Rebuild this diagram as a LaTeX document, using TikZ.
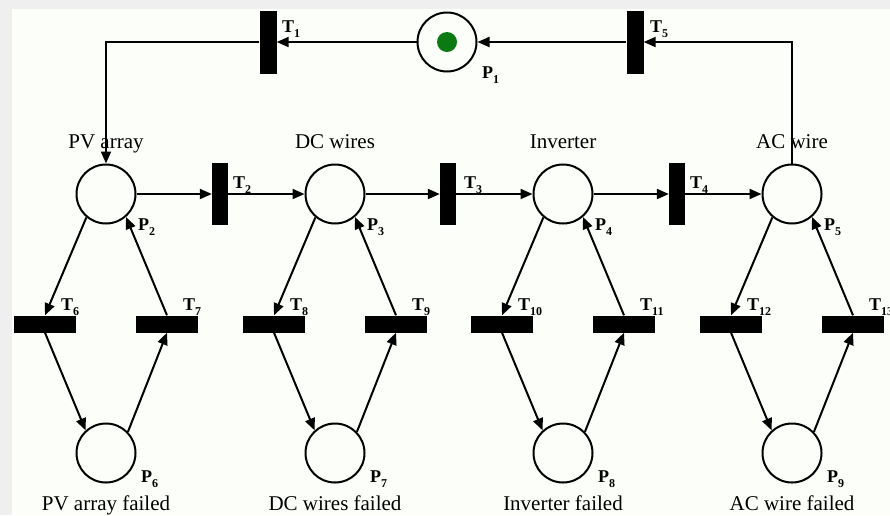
\documentclass[tikz,border=0pt]{standalone}
\usepackage{fontspec}
\setmainfont{Liberation Serif}
\usetikzlibrary{arrows.meta}
\definecolor{bggray}{HTML}{EFEFEF}
\definecolor{panel}{HTML}{FBFEF9}
\definecolor{token}{HTML}{0B7A12}
\newcommand{\tlab}[2]{\textbf{#1\raisebox{-0.3em}{\fontsize{12}{12}\selectfont #2}}}
\begin{document}
\begin{tikzpicture}[x=1pt,y=-1pt,
  place/.style={circle,draw,line width=2pt,minimum size=59pt,inner sep=0pt},
  vbar/.style={rectangle,fill=black,minimum width=17pt,minimum height=63pt,inner sep=0pt},
  hbar/.style={rectangle,fill=black,minimum width=62pt,minimum height=17pt,inner sep=0pt},
  arcline/.style={line width=2pt,-{Triangle[length=12pt,width=10pt]}},
  lab/.style={font=\fontsize{18}{20}\selectfont,inner sep=0pt,anchor=base west},
  nametext/.style={font=\fontsize{21}{24}\selectfont,inner sep=0pt,anchor=base}
]
\useasboundingbox (0,0) rectangle (890,515);
\fill[bggray] (0,0) rectangle (890,515);
\fill[panel] (12,9) rectangle (890,515);

% top part
\node[place] (P1) at (447,42) {};
\fill[token] (P1.center) circle (10pt);
\node[vbar] (T1) at (268,42) {};
\node[vbar] (T5) at (635,42) {};
\node[lab] (lT1) at (282,32) {\tlab{T}{1}};
\node[lab] (lT5) at (650,32) {\tlab{T}{5}};
\node[lab] (lP1) at (482,78) {\tlab{P}{1}};

% columns
\foreach \k/\cx/\nm in {1/106/PV array,2/335/DC wires,3/563/Inverter,4/792/AC wire}{
  \pgfmathtruncatemacro\ptop{\k+1}
  \pgfmathtruncatemacro\pbot{\k+5}
  \pgfmathtruncatemacro\tleft{2*\k+4}
  \pgfmathtruncatemacro\tright{2*\k+5}
  \node[place] (P\ptop) at (\cx,194) {};
  \node[place] (P\pbot) at (\cx,453) {};
  \node[hbar] (T\tleft) at (\cx-61,324) {};
  \node[hbar] (T\tright) at (\cx+61,324) {};
  \node[nametext] (n\ptop) at (\cx,148) {\nm};
  \node[nametext] (n\pbot) at (\cx,510) {\nm\ failed};
  \node[lab] (lP\ptop) at (\cx+32,230) {\tlab{P}{\ptop}};
  \node[lab] (lP\pbot) at (\cx+35,482) {\tlab{P}{\pbot}};
  \node[lab] (lT\tleft) at (\cx-45,310) {\tlab{T}{\tleft}};
  \node[lab] (lT\tright) at (\cx+77,310) {\tlab{T}{\tright}};
  \draw[arcline] (P\ptop.230) -- (T\tleft.north);
  \draw[arcline] (T\tright.north) -- (P\ptop.311);
  \draw[arcline] (T\tleft.south) -- (P\pbot.132);
  \draw[arcline] (P\pbot.44) -- (T\tright.south);
}

\node[vbar,minimum width=16pt,minimum height=62pt] (T2) at (220,194) {};
\node[vbar,minimum width=16pt,minimum height=62pt] (T3) at (448,194) {};
\node[vbar,minimum width=16pt,minimum height=62pt] (T4) at (677,194) {};
\node[lab] (lT2) at (233,188) {\tlab{T}{2}};
\node[lab] (lT3) at (464,188) {\tlab{T}{3}};
\node[lab] (lT4) at (690,188) {\tlab{T}{4}};

\draw[arcline] (P2.east) -- (T2.west);
\draw[arcline] (T2.east) -- (P3.west);
\draw[arcline] (P3.east) -- (T3.west);
\draw[arcline] (T3.east) -- (P4.west);
\draw[arcline] (P4.east) -- (T4.west);
\draw[arcline] (T4.east) -- (P5.west);

\coordinate (cL) at (106,42);
\coordinate (cR) at (792,42);
\draw[arcline] (P1.west) -- (T1.east);
\draw[arcline] (T1.west) -- (cL) -- (P2.north);
\draw[arcline] (T5.west) -- (P1.east);
\draw[arcline] (P5.north) -- (cR) -- (T5.east);
\end{tikzpicture}
\end{document}
